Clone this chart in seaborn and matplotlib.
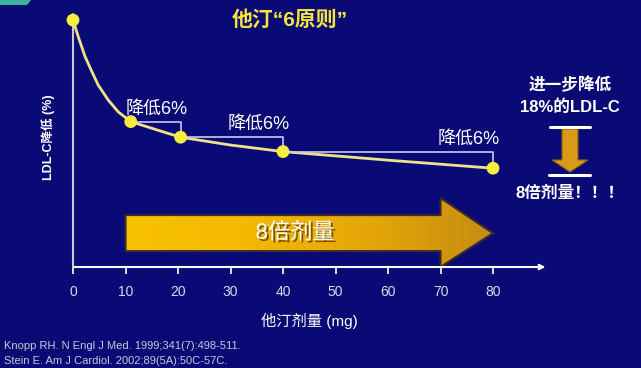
import numpy as np
import pandas as pd
import matplotlib
matplotlib.use("Agg")
import matplotlib.pyplot as plt
import seaborn as sns
from matplotlib.patches import Polygon
from matplotlib.colors import LinearSegmentedColormap
import matplotlib.patheffects as pe

# ---------------- data ----------------
curve_dose = [0, 1.0, 2.3, 3.6, 4.8, 6.7, 8.6, 11, 16, 20.5, 30, 40, 60, 80]
curve_level = [98, 91.4, 83.5, 77.5, 72.2, 66.3, 61.6, 57.7, 54.4, 51.5, 48.4, 45.8, 42.4, 39.2]
point_dose = [0, 11, 20.5, 40, 80]
point_level = [98, 57.7, 51.5, 45.8, 39.2]
bracket_labels = ["降低6%", "降低6%", "降低6%"]
x_ticks = [0, 10, 20, 30, 40, 50, 60, 70, 80]
arrow_start, arrow_head_base, arrow_end = 10, 70, 80
title = "他汀“6原则”"
x_label = "他汀剂量 (mg)"
y_label = "LDL-C降低 (%)"
arrow_text = "8倍剂量"
side_lines = ["进一步降低", "18%的LDL-C"]
side_bottom = "8倍剂量！！！"
refs = ["Knopp RH. N Engl J Med. 1999;341(7):498-511.",
        "Stein E. Am J Cardiol. 2002;89(5A):50C-57C."]

BG = "#0a0a76"
sns.set_style("dark")
plt.rcParams["font.family"] = ["Liberation Sans", "Noto Sans CJK SC", "DejaVu Sans"]

W, H = 641, 368
fig = plt.figure(figsize=(W / 100, H / 100), dpi=100, facecolor=BG)
ax = fig.add_axes([73 / W, 101 / H, 472.5 / W, 255 / H])
ax.set_facecolor(BG)
ax.set_xlim(0, 90)
ax.set_ylim(0, 101.2)
for s in ax.spines.values():
    s.set_visible(False)
ax.grid(False)

# big gold arrow (gradient)
body_lo, body_hi, head_lo, head_hi, tip_y = 6.3, 20.6, 0.0, 27.4, 13.4
poly = Polygon([(arrow_start, body_lo), (arrow_head_base, body_lo), (arrow_head_base, head_lo),
                (arrow_end, tip_y), (arrow_head_base, head_hi), (arrow_head_base, body_hi),
                (arrow_start, body_hi)], closed=True, facecolor="none",
               edgecolor="#3a2a30", lw=1.5, zorder=3)
ax.add_patch(poly)
cmap = LinearSegmentedColormap.from_list("gold", ["#f8c200", "#f4b800", "#e4a608", "#c68c12"])
grad = np.linspace(0, 1, 256).reshape(1, -1)
im = ax.imshow(grad, extent=(arrow_start, arrow_end, head_lo, head_hi), aspect="auto",
               cmap=cmap, zorder=2, origin="lower")
im.set_clip_path(poly)
ax.set_xlim(0, 90)
ax.set_ylim(0, 101.2)
ax.text((arrow_start + arrow_head_base) / 2 + 2.3, tip_y, arrow_text, color="white",
        fontsize=16, ha="center", va="center", zorder=4,
        path_effects=[pe.withSimplePatchShadow(offset=(1.5, -1.5), shadow_rgbFace="#5a3a00", alpha=0.8)])

# curve and points
df_curve = pd.DataFrame({"dose": curve_dose, "level": curve_level})
df_pts = pd.DataFrame({"dose": point_dose, "level": point_level})
sns.lineplot(data=df_curve, x="dose", y="level", ax=ax, color="#efe38a", lw=2, zorder=5)
sns.scatterplot(data=df_pts, x="dose", y="level", ax=ax, color="#f6ee3c", s=85,
                edgecolor="none", zorder=7, clip_on=False)

# brackets
for i, lab in enumerate(bracket_labels):
    x0, x1 = point_dose[i + 1], point_dose[i + 2]
    y0, y1 = point_level[i + 1], point_level[i + 2]
    ax.plot([x0, x1, x1], [y0, y0, y1], color="#c8c8f0", lw=1.2, zorder=6)
    ax.text(x1 + 1.3, y0 + 1.6, lab, color="white", fontsize=13, ha="right", va="bottom", zorder=8)

# axes arrows
ax.annotate("", xy=(1.0, 0), xytext=(0, 0), xycoords="axes fraction",
            arrowprops=dict(arrowstyle="-|>", color="white", lw=1.5, mutation_scale=8,
                            shrinkA=0, shrinkB=0))
ax.annotate("", xy=(0, 1.0), xytext=(0, 0), xycoords="axes fraction",
            arrowprops=dict(arrowstyle="->", color="#c8c8e0", lw=1.5, mutation_scale=9,
                            shrinkA=0, shrinkB=0))

ax.set_xticks(x_ticks)
ax.set_xticklabels([str(t) for t in x_ticks])
ax.set_yticks([])
ax.tick_params(axis="x", colors="white", length=5, width=1.2, pad=8, labelsize=10,
               labelcolor="#d8d8e8", bottom=True)
ax.set_xlabel(x_label, color="white", fontsize=11, labelpad=10)
ax.set_ylabel(y_label, color="white", fontsize=9, fontweight="bold")
ax.yaxis.set_label_coords(-0.038, 0.51)

# overlay axes in pixel coords
ov = fig.add_axes([0, 0, 1, 1])
ov.set_xlim(0, W)
ov.set_ylim(H, 0)
ov.axis("off")
ov.patch.set_visible(False)

ov.add_patch(Polygon([(0, 0), (31, 0), (27, 5), (0, 5)], closed=True, facecolor="#3cb49c",
                     edgecolor="none"))

ov.text(290, 20, title, color="#f2e43c", fontsize=15, fontweight="bold", ha="center", va="center")
ov.text(570, 85, side_lines[0], color="white", fontsize=12, fontweight="bold", ha="center", va="center")
ov.text(570, 107, side_lines[1], color="white", fontsize=12, fontweight="bold", ha="center", va="center")
ov.text(570, 193, side_bottom, color="white", fontsize=12, fontweight="bold", ha="center", va="center")

down = Polygon([(562, 129), (578, 129), (578, 160), (588, 160), (570, 172), (552, 160), (562, 160)],
               closed=True, facecolor="#d89a18", edgecolor="#8a6010", lw=0.8)
ov.add_patch(down)
ov.plot([550, 590], [126.5, 126.5], color="white", lw=2.2)
ov.plot([549, 590], [174.5, 174.5], color="white", lw=2.2)

ov.text(4, 346, refs[0], color="#c8c8d8", fontsize=8, ha="left", va="center")
ov.text(4, 361, refs[1], color="#c8c8d8", fontsize=8, ha="left", va="center")

fig.savefig("out.png", dpi=100, facecolor=BG)
